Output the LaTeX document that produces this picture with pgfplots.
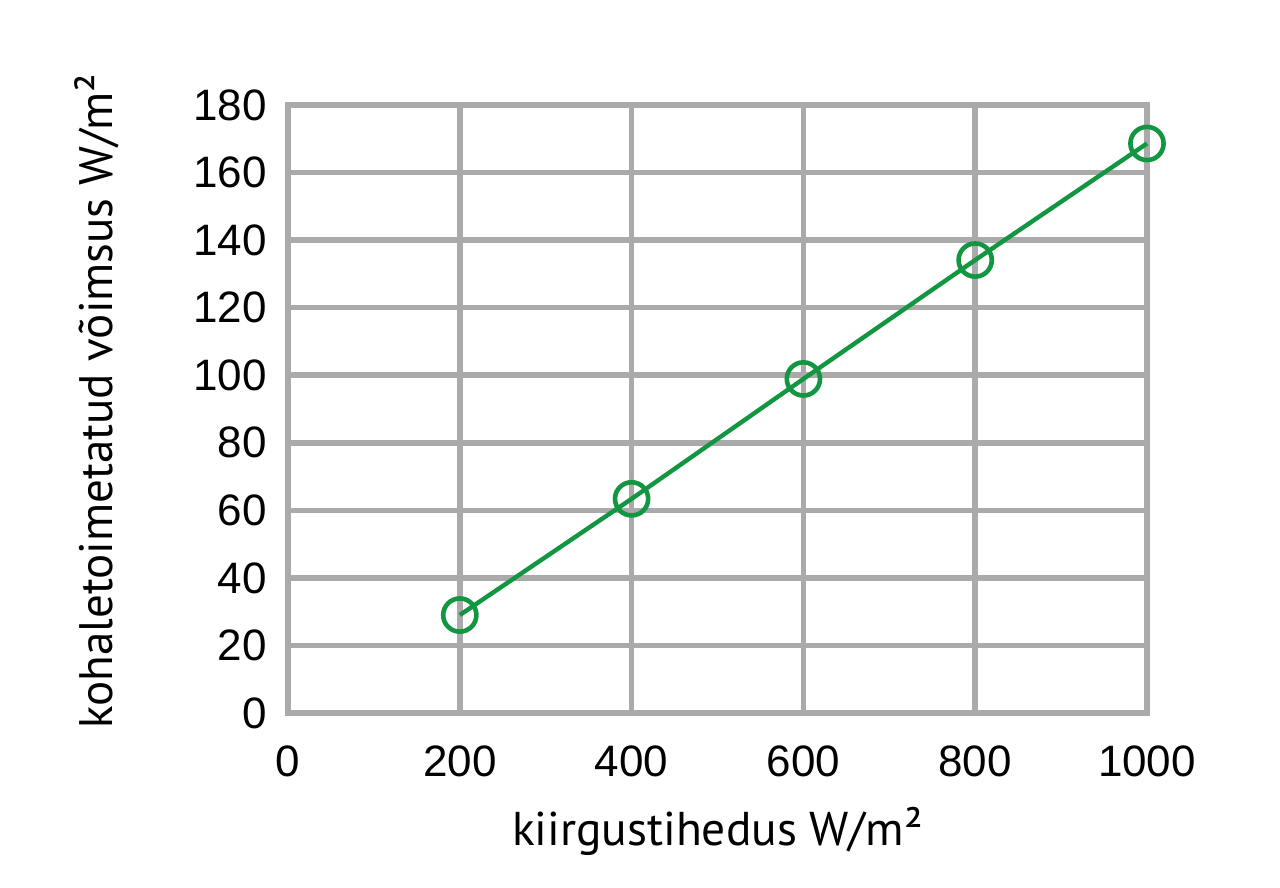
\documentclass[border=0pt]{standalone}
\usepackage{pgfplots}
\pgfplotsset{compat=1.18}
\usepackage{fontspec}
\setmainfont{Liberation Sans}
\newfontfamily\labfont{PT Sans}
\definecolor{gridgray}{RGB}{170,170,170}
\definecolor{lgreen}{RGB}{18,150,66}
\begin{document}
\begin{tikzpicture}
\path (-144pt,-87.5pt) rectangle (496pt,356.5pt);
\begin{axis}[
  at={(0,0)}, anchor=south west,
  scale only axis, width=429.5pt, height=304pt,
  xmin=0, xmax=1000, ymin=0, ymax=180,
  xtick={0,200,...,1000}, ytick={0,20,...,180},
  grid=major,
  major grid style={gridgray, line width=2.8pt},
  axis line style={gridgray, line width=2.8pt},
  major tick length=0pt,
  tick label style={font=\fontsize{22}{25}\selectfont},
  /pgf/number format/assume math mode=true,
  /pgf/number format/1000 sep={},
  xticklabel style={yshift=-13pt},
  yticklabel style={xshift=-7pt},
  xlabel={\labfont\fontsize{23.7}{28}\selectfont kiirgustihedus W/m²},
  ylabel={\labfont\fontsize{23.5}{28}\selectfont kohaletoimetatud võimsus W/m²},
  xlabel style={at={(rel axis cs:0.5,0)}, anchor=base, yshift=-66pt},
  ylabel style={at={(rel axis cs:0,0.513)}, anchor=base, yshift=87.5pt},
  clip=false,
]
\addplot[lgreen, line width=2.2pt, mark=o, mark size=8.3pt, mark options={line width=2.3pt}]
coordinates {(200,29) (400,63.4) (600,98.9) (800,134.1) (1000,168.6)};
\end{axis}
\end{tikzpicture}
\end{document}
